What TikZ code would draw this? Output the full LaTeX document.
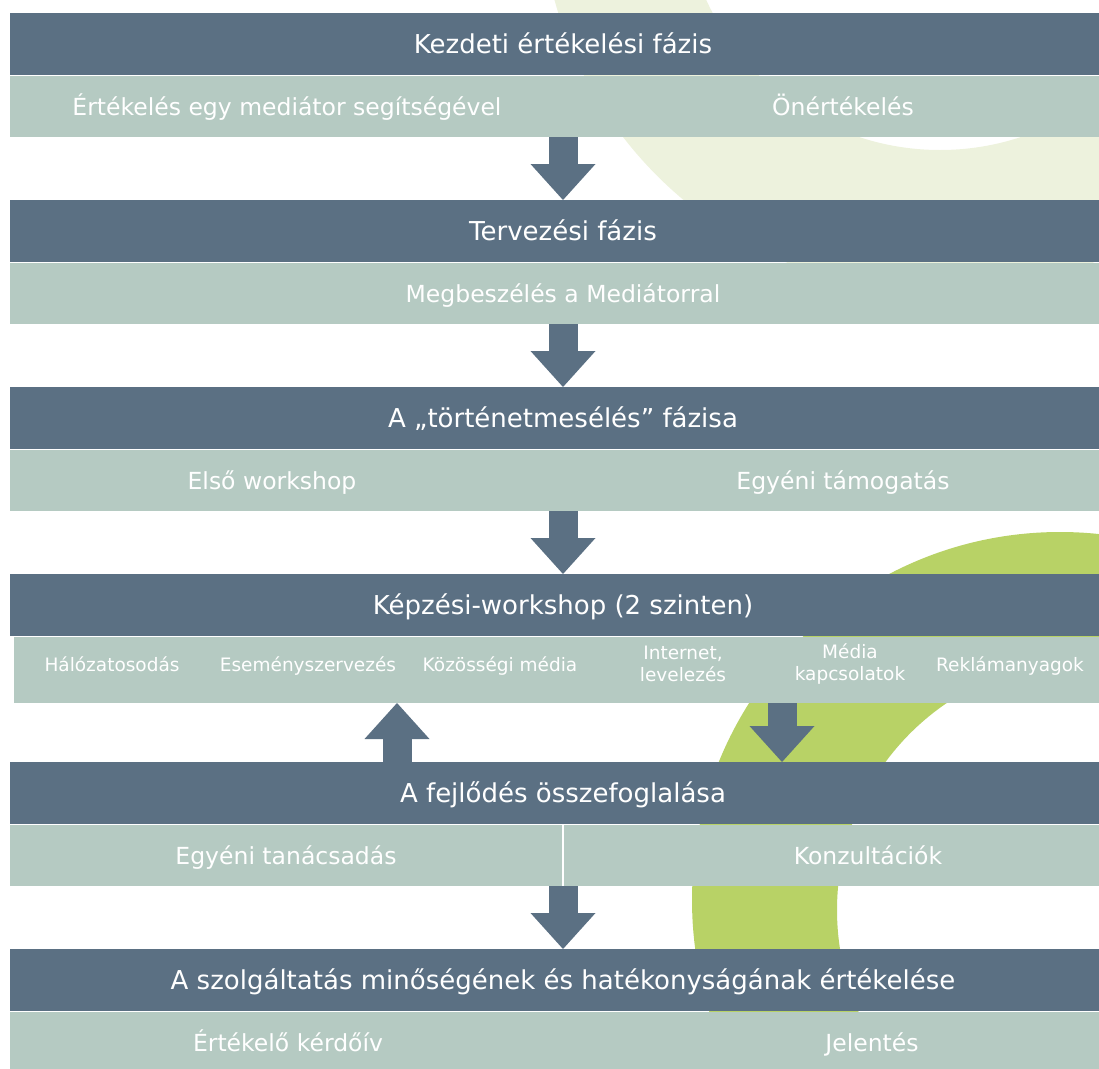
\documentclass[tikz,border=0pt]{standalone}
\usepackage{fontspec}
\setmainfont{DejaVu Sans}
\usetikzlibrary{positioning, arrows.meta}

\definecolor{phaseblue}{RGB}{91,112,131}
\definecolor{stepsage}{RGB}{181,202,194}
\definecolor{ringpale}{RGB}{237,242,221}
\definecolor{ringlime}{RGB}{184,210,102}

\begin{document}
\begin{tikzpicture}[x=1pt, y=-1pt,
	phasebar/.style={fill=phaseblue, text=white, inner sep=0pt, outer sep=0pt, minimum height=62pt, minimum width=1106pt, text height=19pt, text depth=0pt, font=\fontsize{26}{30}\selectfont},
	detailbar/.style={fill=stepsage, inner sep=0pt, outer sep=0pt, minimum height=61pt, minimum width=1106pt},
	detailcell/.style={detailbar, minimum width=552pt, text=white, text height=17pt, text depth=0pt, font=\fontsize{23.5}{28}\selectfont},
	entry/.style={text=white, inner sep=0pt, text height=17pt, text depth=0pt, font=\fontsize{23.5}{28}\selectfont},
	smallentry/.style={text=white, inner sep=0pt, text height=13.5pt, text depth=0pt, font=\fontsize{18.5}{22}\selectfont},
	twoline/.style={text=white, align=center, inner sep=0pt, font=\fontsize{18.5}{22}\selectfont},
	bigarrow/.style={phaseblue, line width=29pt, -{Triangle[width=65pt, length=36pt, line width=0pt]}}]
	
	\useasboundingbox (0,0) rectangle (1099,1068);
	\clip (0,0) rectangle (1099,1068);
	
	% background rings
	\fill[ringpale, even odd rule] (940,-107) circle[radius=400pt] (940,-107) circle[radius=257pt];
	\fill[ringlime, even odd rule] (1060,900) circle[radius=368pt] (1087,910) circle[radius=250pt];
	
	\node[phasebar] (head1) at (563,44) {Kezdeti értékelési fázis};
	\node[detailbar, below=1pt of head1] (sub1) {};
	\node[entry] (mediator) at ([xshift=-276pt]sub1.center) {Értékelés egy mediátor segítségével};
	\node[entry] (selfeval) at ([xshift=280pt]sub1.center) {Önértékelés};
	
	\node[phasebar, below=63pt of sub1] (head2) {Tervezési fázis};
	\node[detailbar, below=1pt of head2] (sub2) {};
	\node[entry] (meeting) at (sub2.center) {Megbeszélés a Mediátorral};
	
	\node[phasebar, below=63pt of sub2] (head3) {A „történetmesélés” fázisa};
	\node[detailbar, below=1pt of head3] (sub3) {};
	\node[entry] (firstws) at ([xshift=-291pt]sub3.center) {Első workshop};
	\node[entry] (support) at ([xshift=280pt]sub3.center) {Egyéni támogatás};
	
	\node[phasebar, below=63pt of sub3] (head4) {Képzési-workshop (2 szinten)};
	\node[detailbar, minimum height=66pt, minimum width=1102pt, below=1pt of head4, xshift=2pt] (sub4) {};
	\node[smallentry] (networking) at (112,664.5) {Hálózatosodás};
	\node[smallentry] (events) at (308,664.5) {Eseményszervezés};
	\node[smallentry] (social) at (500,664.5) {Közösségi média};
	\node[twoline] (internet) at (683,664) {Internet,\\levelezés};
	\node[twoline] (press) at (850,664) {Média\\kapcsolatok};
	\node[smallentry] (promo) at (1010,664.5) {Reklámanyagok};
	
	\node[phasebar] (head5) at (563,793) {A fejlődés összefoglalása};
	\node[detailcell, below right=1pt and 0pt of head5.south west] (coaching) {Egyéni tanácsadás};
	\node[detailcell, minimum width=608pt, right=2pt of coaching] (consult) {Konzultációk};
	
	\node[phasebar] (head6) at (563,980) {A szolgáltatás minőségének és hatékonyságának értékelése};
	\node[detailbar, below=1pt of head6] (sub6) {};
	\node[entry] (survey) at ([xshift=-275pt]sub6.center) {Értékelő kérdőív};
	\node[entry] (report) at ([xshift=309pt]sub6.center) {Jelentés};
	
	% arrows between the phases
	\draw[bigarrow] (sub1) -- (head2);
	\draw[bigarrow] (sub2) -- (head3);
	\draw[bigarrow] (sub3) -- (head4);
	
	\coordinate (upcol) at (397,0);
	\coordinate (downcol) at (782,0);
	\draw[bigarrow] (head5.north -| upcol) -- (sub4.south -| upcol);
	\draw[bigarrow] (sub4.south -| downcol) -- (head5.north -| downcol);
	
	\draw[bigarrow] (coaching.south -| head6.north) -- (head6.north);
\end{tikzpicture}
\end{document}
